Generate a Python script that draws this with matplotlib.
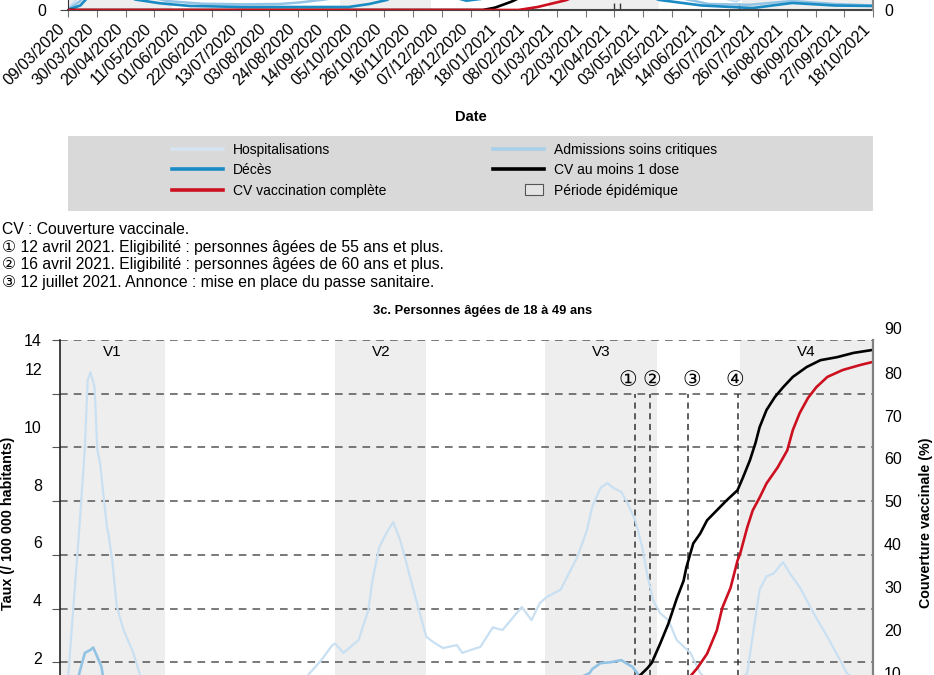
"""Hospitalisations, décès et couverture vaccinale - fin du graphique 3b et début du 3c."""

import matplotlib

matplotlib.use("Agg")
import matplotlib.pyplot as plt
import pandas as pd
from matplotlib.legend_handler import HandlerPatch
from matplotlib.lines import Line2D
from matplotlib.patches import Patch, Rectangle

FONT = ["Liberation Sans", "DejaVu Sans"]
plt.rcParams["font.family"] = FONT
plt.rcParams["font.size"] = 10

# ---------------------------------------------------------------- data
X_START, X_END = "2020-03-09", "2021-10-18"
TICK_DATES = pd.date_range(X_START, X_END, freq="21D")

PERIODS = [("2020-03-09", "2020-05-24"), ("2020-09-24", "2020-11-29"),
           ("2021-02-23", "2021-05-15"), ("2021-07-14", "2021-10-18")]
PERIOD_LABELS = ["V1", "V2", "V3", "V4"]

# 3b (only the bottom of the panel is visible)
top_hosp_dates = ["2020-03-09", "2020-03-16", "2020-03-25", "2020-04-05", "2020-05-01", "2020-06-01",
                  "2020-07-01", "2020-08-01", "2020-09-01", "2020-10-01", "2020-11-05", "2020-12-15",
                  "2021-01-15", "2021-02-15", "2021-04-10", "2021-05-15", "2021-06-15", "2021-07-10",
                  "2021-08-15", "2021-09-15", "2021-10-18"]
top_hosp = [0.1, 0.8, 4.0, 9.0, 4.0, 1.5, 0.8, 0.75, 1.0, 3.0, 8.0, 5.0, 5.0, 5.5, 9.0, 4.0, 1.2, 0.55,
            2.5, 1.2, 0.7]
top_adm_dates = ["2020-03-09", "2020-03-18", "2020-04-01", "2020-04-25", "2020-05-20", "2020-06-15",
                 "2020-07-15", "2020-08-10", "2020-08-25", "2020-09-10", "2020-09-20", "2020-10-15",
                 "2020-11-10", "2020-12-20", "2021-01-20", "2021-04-10", "2021-05-20", "2021-06-20",
                 "2021-07-20", "2021-08-20", "2021-09-20", "2021-10-18"]
top_adm = [0.05, 0.6, 3.0, 1.2, 0.6, 0.42, 0.38, 0.4, 0.5, 0.67, 0.8, 1.2, 2.5, 1.2, 1.3, 3.0, 1.0, 0.4,
           0.35, 0.6, 0.4, 0.3]
top_deces_dates = ["2020-03-09", "2020-03-18", "2020-03-23", "2020-04-10", "2020-04-27", "2020-05-15",
                   "2020-06-06", "2020-07-15", "2020-08-20", "2020-09-30", "2020-10-15", "2020-10-28",
                   "2020-11-15", "2020-12-10", "2020-12-25", "2021-01-10", "2021-02-15", "2021-04-15",
                   "2021-05-15", "2021-06-15", "2021-07-22", "2021-08-20", "2021-09-20", "2021-10-18"]
top_deces = [0.02, 0.3, 0.8, 2.0, 0.7, 0.45, 0.27, 0.2, 0.2, 0.2, 0.4, 0.67, 1.6, 1.0, 0.62, 0.8, 1.0,
             1.6, 0.67, 0.3, 0.13, 0.47, 0.3, 0.27]
top_dose1_dates = ["2020-03-09", "2021-01-06", "2021-01-15", "2021-01-27", "2021-02-20", "2021-04-01",
                   "2021-05-15", "2021-06-15", "2021-07-15", "2021-08-15", "2021-09-15", "2021-10-18"]
top_dose1 = [0, 0, 0.8, 2.8, 8, 20, 45, 65, 75, 82, 85, 86]
top_full_dates = ["2020-03-09", "2021-02-01", "2021-02-15", "2021-03-08", "2021-04-01", "2021-05-01",
                  "2021-06-01", "2021-07-01", "2021-08-01", "2021-09-01", "2021-10-18"]
top_full = [0, 0, 1.0, 3.3, 8, 15, 35, 60, 75, 82, 85]
TOP_EVENTS = ["2021-04-12", "2021-04-16", "2021-07-12"]

# 3c. Personnes âgées de 18 à 49 ans
hosp_dates = ["2020-03-09", "2020-03-15", "2020-03-18", "2020-03-23", "2020-03-27", "2020-03-29",
              "2020-03-31", "2020-04-03", "2020-04-05", "2020-04-07",
              "2020-04-12", "2020-04-13", "2020-04-16", "2020-04-19", "2020-04-24", "2020-05-01",
              "2020-05-06", "2020-05-18", "2020-06-17", "2020-07-27",
              "2020-08-22", "2020-09-04", "2020-09-14", "2020-09-22", "2020-09-24", "2020-09-30",
              "2020-10-11", "2020-10-18", "2020-10-21", "2020-10-26",
              "2020-10-31", "2020-11-05", "2020-11-10", "2020-11-14", "2020-11-21", "2020-11-27",
              "2020-11-29", "2020-12-04", "2020-12-11", "2020-12-21",
              "2020-12-25", "2020-12-31", "2021-01-07", "2021-01-16", "2021-01-23", "2021-02-06",
              "2021-02-13", "2021-02-19", "2021-02-24", "2021-03-06",
              "2021-03-18", "2021-03-25", "2021-03-29", "2021-04-04", "2021-04-09", "2021-04-13",
              "2021-04-19", "2021-04-23", "2021-04-29", "2021-05-04",
              "2021-05-08", "2021-05-12", "2021-05-17", "2021-05-23", "2021-05-29", "2021-06-08",
              "2021-06-15", "2021-06-27", "2021-07-07", "2021-07-19",
              "2021-07-28", "2021-08-02", "2021-08-07", "2021-08-14", "2021-08-19", "2021-08-26",
              "2021-09-05", "2021-09-15", "2021-09-24", "2021-09-29", "2021-10-18"]
hosp = [0.2, 1.5, 3.6, 7.0, 10.0, 12.5, 12.8, 12.25, 9.9, 9.4,
        7.0, 6.8, 5.7, 4.1, 3.2, 2.35, 1.5, 1.0, 0.5, 0.4,
        0.8, 1.5, 2.08, 2.64, 2.7, 2.35, 2.83, 3.95, 5.06, 6.3,
        6.8, 7.22, 6.55, 5.8, 4.43, 3.3, 2.95, 2.75, 2.53, 2.64,
        2.35, 2.46, 2.57, 3.3, 3.2, 4.06, 3.57, 4.2, 4.43, 4.7,
        5.9, 6.9, 7.8, 8.5, 8.67, 8.5, 8.34, 7.97, 7.3, 6.3,
        5.2, 4.3, 3.83, 3.57, 2.83, 2.35, 1.6, 1.0, 0.9, 1.6,
        4.7, 5.2, 5.3, 5.73, 5.3, 4.8, 3.83, 2.95, 2.1, 1.6, 0.9]
adm_dates = ["2020-03-09", "2020-03-20", "2020-03-23", "2020-03-27", "2020-03-31", "2020-04-02",
             "2020-04-05", "2020-04-08", "2020-04-09", "2020-04-23", "2020-05-18", "2020-07-15",
             "2020-09-15", "2020-11-05", "2020-12-20", "2021-01-25", "2021-03-15", "2021-03-27",
             "2021-03-29", "2021-04-04", "2021-04-11", "2021-04-19", "2021-04-23", "2021-04-27",
             "2021-05-02", "2021-05-23", "2021-07-01", "2021-08-14", "2021-10-18"]
adm = [0.1, 0.9, 1.6, 2.35, 2.46, 2.55, 2.2, 1.83, 1.5, 0.8, 0.3, 0.1, 0.3, 1.3, 0.9, 1.0, 1.3, 1.6,
       1.75, 1.97, 2.0, 2.08, 1.95, 1.83, 1.5, 0.8, 0.4, 1.1, 0.4]
deces_dates = ["2020-03-09", "2020-04-01", "2020-05-15", "2020-08-01", "2020-11-05", "2021-01-15",
               "2021-04-10", "2021-06-15", "2021-08-20", "2021-10-18"]
deces = [0.0, 0.25, 0.05, 0.01, 0.15, 0.1, 0.2, 0.03, 0.12, 0.03]
dose1_dates = ["2020-03-09", "2021-01-01", "2021-02-01", "2021-03-25", "2021-05-02", "2021-05-08",
               "2021-05-11", "2021-05-17", "2021-05-23", "2021-05-29", "2021-06-03", "2021-06-05",
               "2021-06-10", "2021-06-15", "2021-06-20", "2021-06-27", "2021-07-04", "2021-07-12",
               "2021-07-16", "2021-07-21", "2021-07-25", "2021-07-28", "2021-08-02", "2021-08-08",
               "2021-08-14", "2021-08-21", "2021-08-31", "2021-09-10", "2021-09-22", "2021-10-04",
               "2021-10-18"]
dose1 = [0, 0, 3, 6, 9.3, 11.2, 12.4, 16.8, 21.5, 27.3, 31.5, 34.6, 40.2, 42.5, 45.6, 47.9, 50.2, 52.6,
         55.6, 59.6, 63.6, 67.3, 71.3, 74.3, 76.6, 79.0, 81.3, 82.9, 83.6, 84.6, 85.3]
full_dates = ["2020-03-09", "2021-01-20", "2021-03-25", "2021-05-12", "2021-06-08", "2021-06-13",
              "2021-06-20", "2021-06-27", "2021-07-01", "2021-07-07", "2021-07-12", "2021-07-14",
              "2021-07-19", "2021-07-23", "2021-07-28", "2021-08-02", "2021-08-10", "2021-08-17",
              "2021-08-21", "2021-08-26", "2021-09-01", "2021-09-07", "2021-09-15", "2021-09-26",
              "2021-10-09", "2021-10-18"]
full = [0, 0, 3, 6, 9.3, 11.2, 14.5, 19.9, 25.2, 29.9, 36.2, 37.9, 43.9, 47.9, 50.9, 54.2, 57.9, 61.9,
        66.6, 70.6, 74.1, 76.6, 79.0, 80.6, 81.8, 82.5]
EVENTS = ["2021-04-29", "2021-05-10", "2021-06-06", "2021-07-12"]
EVENT_MARKS = ["①", "②", "③", "④"]

LEFT_LABELS = [2, 4, 6, 8, 10, 12, 14]
RIGHT_TICKS = [10, 20, 30, 40, 50, 60, 70, 80]

NOTES = [
    "CV : Couverture vaccinale.",
    "① 12 avril 2021. Eligibilité : personnes âgées de 55 ans et plus.",
    "② 16 avril 2021. Eligibilité : personnes âgées de 60 ans et plus.",
    "③ 12 juillet 2021. Annonce : mise en place du passe sanitaire.",
]

# ---------------------------------------------------------------- style
C_HOSP = "#c9e0f2"
C_HOSP_LEG = "#d5e4f0"
C_ADM = "#93c3e4"
C_ADM_LEG = "#a8d0ea"
C_DECES = "#1a8bc3"
C_FULL = "#cc1020"
C_DOSE1 = "#000000"
C_SHADE = "#eeeeee"
C_GRID = "#555555"
DASH = (0, (5, 4))

W, H = 934, 675


def box(left, top, right, bottom):
    return [left / W, 1 - bottom / H, (right - left) / W, (bottom - top) / H]


def d(values):
    return pd.to_datetime(values)


def small_box(legend, orig_handle, xdescent, ydescent, width, height, fontsize):
    return Rectangle((-xdescent + 0.62 * width, -ydescent - 0.1 * height), 0.36 * width, 1.2 * height)


fig = plt.figure(figsize=(W / 100, H / 100), dpi=100)

# ---------------------------------------------------------------- 3b (bottom strip)
ax_t = fig.add_axes(box(68, -290, 873, 10))
ax_tr = ax_t.twinx()
for s, e in PERIODS:
    ax_t.axvspan(pd.Timestamp(s), pd.Timestamp(e), color=C_SHADE, lw=0, zorder=0.2)
ax_t.vlines(d(TOP_EVENTS), 0, 20, colors="#333333", linestyles=DASH, lw=1.0)
ax_t.plot(d(top_hosp_dates), top_hosp, color=C_HOSP, lw=1.6)
ax_t.plot(d(top_adm_dates), top_adm, color=C_ADM, lw=1.8)
ax_t.plot(d(top_deces_dates), top_deces, color=C_DECES, lw=1.9)
ax_tr.plot(d(top_dose1_dates), top_dose1, color=C_DOSE1, lw=1.9)
ax_tr.plot(d(top_full_dates), top_full, color=C_FULL, lw=1.9)
ax_t.set_xlim(pd.Timestamp(X_START), pd.Timestamp(X_END))
ax_t.set_ylim(0, 20)
ax_tr.set_ylim(0, 100)
ax_t.set_xticks(TICK_DATES)
ax_t.set_xticklabels([t.strftime("%d/%m/%Y") for t in TICK_DATES], rotation=45, ha="right")
ax_t.tick_params(axis="x", length=5, color="#777777", pad=3, labelsize=11.5)
ax_t.set_yticks([0])
ax_t.tick_params(axis="y", length=6, color="#444444", pad=10, labelsize=11.5)
ax_tr.set_yticks([0])
ax_tr.tick_params(axis="y", length=0, pad=8, labelsize=11.5)
ax_t.spines["top"].set_visible(False)
ax_tr.spines["top"].set_visible(False)
ax_t.spines["right"].set_visible(False)
ax_tr.spines["left"].set_visible(False)
ax_t.spines["left"].set_color("#333333")
ax_tr.spines["right"].set_color("#888888")
ax_tr.spines["right"].set_linewidth(1.5)
ax_t.spines["bottom"].set_color("#444444")
ax_t.spines["bottom"].set_linewidth(1.5)
ax_tr.spines["bottom"].set_visible(False)

fig.text(471 / W, 1 - 117 / H, "Date", ha="center", va="center", fontweight="bold", fontsize=10.5)

# ---------------------------------------------------------------- legend
fig.add_artist(Rectangle((68 / W, 1 - 211 / H), 805 / W, 75 / H, transform=fig.transFigure,
                         facecolor="#d9d9d9", edgecolor="none"))
leg_kw = dict(loc="upper left", frameon=False, fontsize=10, handlelength=3.7, handletextpad=0.7,
              borderpad=0, borderaxespad=0, labelspacing=0.45)
h1 = [Line2D([], [], color=C_HOSP_LEG, lw=2.6), Line2D([], [], color=C_DECES, lw=2.6),
      Line2D([], [], color=C_FULL, lw=2.6)]
fig.legend(h1, ["Hospitalisations", "Décès", "CV vaccination complète"],
           bbox_to_anchor=(172 / W, 1 - 143 / H), **leg_kw)
h2 = [Line2D([], [], color=C_ADM_LEG, lw=2.6), Line2D([], [], color=C_DOSE1, lw=2.6),
      Patch(facecolor="#e4e4e4", edgecolor="#555555", lw=0.8)]
fig.legend(h2, ["Admissions soins critiques", "CV au moins 1 dose", "Période épidémique"],
           bbox_to_anchor=(493 / W, 1 - 143 / H), handler_map={Patch: HandlerPatch(patch_func=small_box)},
           **leg_kw)

# ---------------------------------------------------------------- notes and title
for i, line in enumerate(NOTES):
    fig.text(2 / W, 1 - (229 + 18 * i) / H, line, ha="left", va="center", fontsize=11.3)
fig.text(483 / W, 1 - 311 / H, "3c. Personnes âgées de 18 à 49 ans", ha="center", va="center",
         fontweight="bold", fontsize=9.3)

# ---------------------------------------------------------------- 3c
ax = fig.add_axes(box(60, 340, 873, 716))
ax_r = ax.twinx()
for (s, e), lab in zip(PERIODS, PERIOD_LABELS):
    s, e = pd.Timestamp(s), pd.Timestamp(e)
    ax.axvspan(s, e, color=C_SHADE, lw=0, zorder=0.2)
    ax.text(s + (e - s) / 2, 13.55, lab, ha="center", va="center", fontsize=11)
ax.vlines(d(EVENTS), 0, 12, colors="#333333", linestyles=(0, (4, 3)), lw=1.1, zorder=1)
for date, mark, off in zip(d(EVENTS), EVENT_MARKS, [-5, 1, 3, -2]):
    ax.annotate(mark, xy=(date, 12.5), xytext=(off, 0), textcoords="offset points", ha="center",
                va="center", fontsize=15, family="DejaVu Sans")
ax.plot(d(hosp_dates), hosp, color=C_HOSP, lw=1.6, zorder=2)
ax.plot(d(adm_dates), adm, color=C_ADM, lw=1.9, zorder=2)
ax.plot(d(deces_dates), deces, color=C_DECES, lw=1.9, zorder=2)
ax_r.plot(d(dose1_dates), dose1, color=C_DOSE1, lw=1.9)
ax_r.plot(d(full_dates), full, color=C_FULL, lw=1.9)

ax.set_xlim(pd.Timestamp(X_START), pd.Timestamp(X_END))
ax.set_xticks([])
ax.set_ylim(0, 14)
ax_r.set_ylim(0, 87.6)
ax.yaxis.remove_overlapping_locs = False
ax.set_yticks(range(0, 15, 2))
ax.tick_params(axis="y", which="major", length=6, color=C_GRID, labelleft=False)
ax.yaxis.grid(True, color=C_GRID, linestyle=DASH, lw=1.1)
ax.set_axisbelow(True)
# the source prints its left labels on a 0-13 spacing, except the top one
label_pos = [v * 14 / 13 for v in LEFT_LABELS[:-1]] + [14]
ax.set_yticks(label_pos, minor=True)
ax.set_yticklabels([str(v) for v in LEFT_LABELS], minor=True)
ax.tick_params(axis="y", which="minor", length=0, pad=13, labelsize=11.5)
ax_r.set_yticks(RIGHT_TICKS)
ax_r.tick_params(axis="y", length=0, pad=8, labelsize=11.5)
ax_r.annotate("90", xy=(1, 90), xycoords=("axes fraction", "data"), xytext=(8, 0),
              textcoords="offset points", ha="left", va="center", fontsize=11.5, annotation_clip=False)
for a in (ax, ax_r):
    a.spines["top"].set_visible(False)
ax.spines["right"].set_visible(False)
ax_r.spines["left"].set_visible(False)
ax.spines["left"].set_color("#222222")
ax.spines["left"].set_linewidth(1.2)
ax_r.spines["right"].set_color("#808080")
ax_r.spines["right"].set_linewidth(1.6)

fig.text(8 / W, 1 - 523 / H, "Taux (/ 100 000 habitants)", rotation=90, ha="center", va="center",
         fontweight="bold", fontsize=10.3)
fig.text(926 / W, 1 - 523 / H, "Couverture vaccinale (%)", rotation=90, ha="center", va="center",
         fontweight="bold", fontsize=10.3)

fig.savefig("out.png", dpi=100)
plt.close(fig)
